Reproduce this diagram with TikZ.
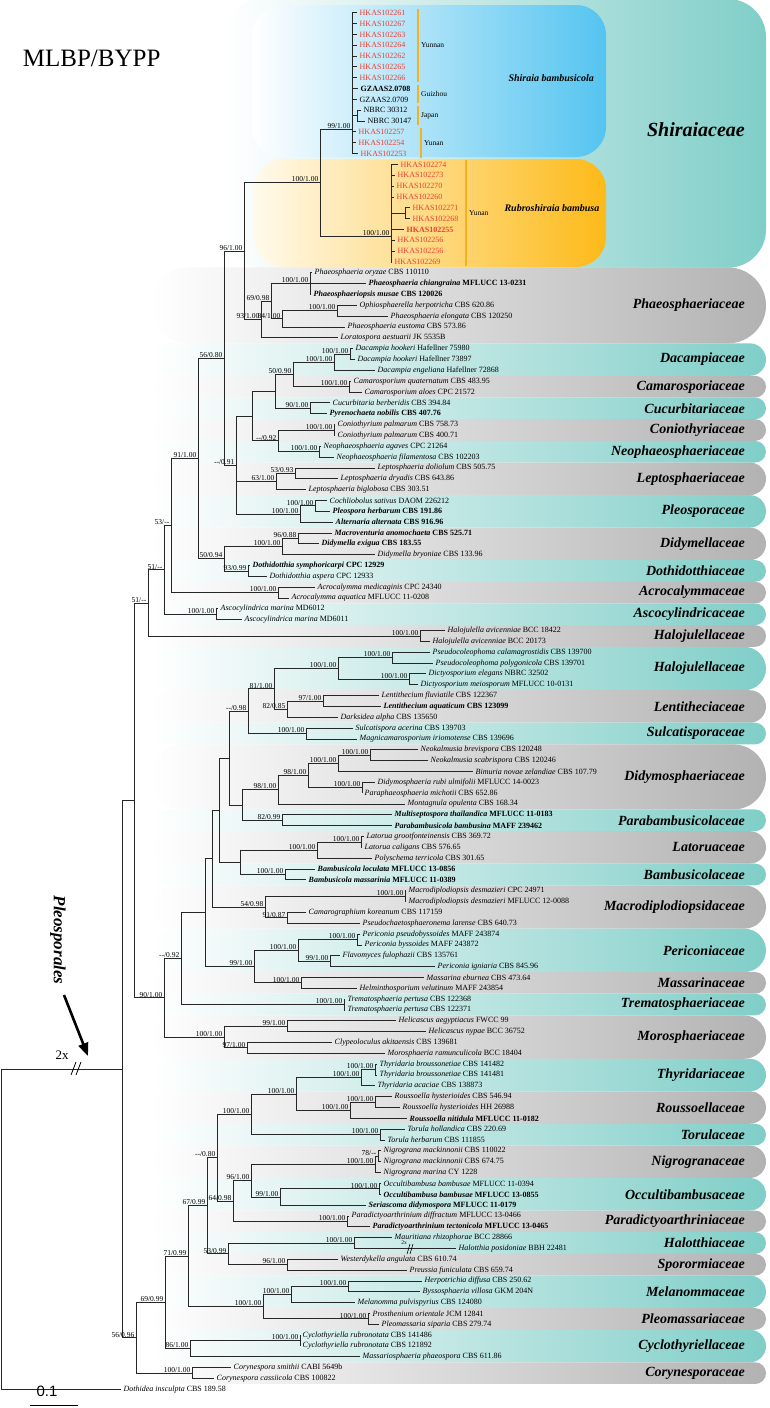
\documentclass[tikz,border=0pt]{standalone}
\usepackage{fontspec}
\setmainfont{Liberation Serif}
\newfontfamily\barfont{Liberation Sans}
\usetikzlibrary{positioning,arrows.meta,calc}
\usepackage{xcolor}
\definecolor{tealc}{RGB}{128,206,200}
\definecolor{greyc}{RGB}{178,178,178}
\definecolor{skyc}{RGB}{84,196,240}
\definecolor{ambc}{RGB}{253,186,24}
\definecolor{creamc}{RGB}{255,250,236}
\definecolor{hkred}{RGB}{236,62,52}
\definecolor{barc}{RGB}{245,178,30}

\newcommand\tx[2]{\textit{#1} #2}
\newcommand\tb[2]{\textbf{\textit{#1} #2}}
% leaf: row, tip x, style, text
\newcommand\lf[4]{%
  \pgfmathsetmacro\yy{12.7+10.84*#1}%
  \coordinate (t#1) at (#2,\yy);%
  \node[leaf,#3] (n#1) at (t#1) {#4};}
% inner node: name, x, first child, last child
\newcommand\nd[4]{%
  \coordinate (m#1) at ($(#3)!0.5!(#4)$);%
  \coordinate (x#1) at (#2,0);%
  \coordinate (#1) at (m#1 -| x#1);}
\newcommand\br[2]{\foreach \ch in {#2}{\draw[br] (#1) |- (\ch);}}
\newcommand\sv[2]{\node[sup] (s#1) at (#1) {#2};}
% family band: rows a b, colour, label
\newcommand\band[4]{%
  \pgfmathsetmacro\ya{12.7+10.84*#1-5.42}%
  \pgfmathsetmacro\yb{12.7+10.84*#2+5.42}%
  \pgfmathsetmacro\yc{(\ya+\yb)/2}%
  \pgfmathsetmacro\rr{min(38,(\yb-\ya)/2)}%
  \shade[left color=white,right color=#3,rounded corners=\rr pt] (150,\ya) rectangle (766,\yb);%
  \node[fam] (f#1) at (745,\yc) {#4};}
\newcommand\locbar[5]{% x, row a, row b, label, label x
  \pgfmathsetmacro\ya{12.7+10.84*#2-4}%
  \pgfmathsetmacro\yb{12.7+10.84*#3+4}%
  \pgfmathsetmacro\yc{(\ya+\yb)/2}%
  \draw[barc,line width=2.2pt] (#1,\ya) -- (#1,\yb);%
  \node[loc] (g#2) at (#5,\yc) {#4};}

\tikzset{
  br/.style={line width=0.9pt,black!85},
  leaf/.style={anchor=west,inner xsep=2.5pt,inner ysep=0pt,font=\fontsize{8}{9}\selectfont},
  hk/.style={text=hkred},
  sup/.style={anchor=south east,inner sep=0.5pt,xshift=-1pt,font=\fontsize{7.5}{8}\selectfont},
  fam/.style={anchor=east,inner sep=0pt,font=\fontsize{14}{16}\selectfont\bfseries\itshape},
  loc/.style={anchor=west,inner sep=1pt,font=\fontsize{7.5}{8}\selectfont},
}

\begin{document}
\begin{tikzpicture}[x=1pt,y=-1pt]
\useasboundingbox (0,0) rectangle (770,1408);

% background bands
\shade[left color=white,right color=tealc,rounded corners=38pt] (224,-1) rectangle (766,267.7);
\shade[left color=white,right color=skyc,rounded corners=30pt] (252,5) rectangle (606,157);
\shade[left color=creamc,right color=ambc,rounded corners=30pt] (254,159) rectangle (606,267);
\node[fam,font=\fontsize{20}{22}\selectfont\bfseries\itshape] (fsh) at (745,130) {Shiraiaceae};
\node[anchor=west,font=\fontsize{10}{12}\selectfont\bfseries\itshape] (shb) at (505,78) {Shiraia bambusicola};
\node[anchor=west,font=\fontsize{10}{12}\selectfont\bfseries\itshape] (rbb) at (501,208) {Rubroshiraia bambusa};
\band{24}{30}{greyc}{Phaeosphaeriaceae}
\band{31}{33}{tealc}{Dacampiaceae}
\band{34}{35}{greyc}{Camarosporiaceae}
\band{36}{37}{tealc}{Cucurbitariaceae}
\band{38}{39}{greyc}{Coniothyriaceae}
\band{40}{41}{tealc}{Neophaeosphaeriaceae}
\band{42}{44}{greyc}{Leptosphaeriaceae}
\band{45}{47}{tealc}{Pleosporaceae}
\band{48}{50}{greyc}{Didymellaceae}
\band{51}{52}{tealc}{Dothidotthiaceae}
\band{53}{54}{greyc}{Acrocalymmaceae}
\band{55}{56}{tealc}{Ascocylindricaceae}
\band{57}{58}{greyc}{Halojulellaceae}
\band{59}{62}{tealc}{Halojulellaceae}
\band{63}{65}{greyc}{Lentitheciaceae}
\band{66}{67}{tealc}{Sulcatisporaceae}
\band{68}{73}{greyc}{Didymosphaeriaceae}
\band{74}{75}{tealc}{Parabambusicolaceae}
\band{76}{78}{greyc}{Latoruaceae}
\band{79}{80}{tealc}{Bambusicolaceae}
\band{81}{84}{greyc}{Macrodiplodiopsidaceae}
\band{85}{88}{tealc}{Periconiaceae}
\band{89}{90}{greyc}{Massarinaceae}
\band{91}{92}{tealc}{Trematosphaeriaceae}
\band{93}{96}{greyc}{Morosphaeriaceae}
\band{97}{99}{tealc}{Thyridariaceae}
\band{100}{102}{greyc}{Roussoellaceae}
\band{103}{104}{tealc}{Torulaceae}
\band{105}{107}{greyc}{Nigrogranaceae}
\band{108}{110}{tealc}{Occultibambusaceae}
\band{111}{112}{greyc}{Paradictyoarthriniaceae}
\band{113}{114}{tealc}{Halotthiaceae}
\band{115}{116}{greyc}{Sporormiaceae}
\band{117}{119}{tealc}{Melanommaceae}
\band{120}{121}{greyc}{Pleomassariaceae}
\band{122}{124}{tealc}{Cyclothyriellaceae}
\band{125}{126}{greyc}{Corynesporaceae}

% location bars
\locbar{417.6}{0}{6}{Yunnan}{420}
\locbar{417.6}{7}{8}{Guizhou}{420}
\locbar{417.6}{9}{10}{Japan}{420}
\locbar{421}{11}{13}{Yunan}{423}
\locbar{466}{14}{23}{Yunan}{468}

% leaves
\lf{0}{357}{hk}{HKAS102261}
\lf{1}{357}{hk}{HKAS102267}
\lf{2}{357}{hk}{HKAS102263}
\lf{3}{357}{hk}{HKAS102264}
\lf{4}{357}{hk}{HKAS102262}
\lf{5}{357}{hk}{HKAS102265}
\lf{6}{357}{hk}{HKAS102266}
\lf{7}{358}{font=\fontsize{8}{9}\selectfont\bfseries}{GZAAS2.0708}
\lf{8}{357}{}{GZAAS2.0709}
\lf{9}{361}{}{NBRC 30312}
\lf{10}{365}{}{NBRC 30147}
\lf{11}{356}{hk}{HKAS102257}
\lf{12}{356}{hk}{HKAS102254}
\lf{13}{358}{hk}{HKAS102253}
\lf{14}{398}{hk}{HKAS102274}
\lf{15}{395}{hk}{HKAS102273}
\lf{16}{394}{hk}{HKAS102270}
\lf{17}{394}{hk}{HKAS102260}
\lf{18}{410}{hk}{HKAS102271}
\lf{19}{410}{hk}{HKAS102268}
\lf{20}{404}{hk,font=\fontsize{8}{9}\selectfont\bfseries}{HKAS102255}
\lf{21}{395}{hk}{HKAS102256}
\lf{22}{395}{hk}{HKAS102256}
\lf{23}{392}{hk}{HKAS102269}
\lf{24}{312}{}{\tx{Phaeosphaeria oryzae}{CBS 110110}}
\lf{25}{366}{}{\tb{Phaeosphaeria chiangraina}{MFLUCC 13-0231}}
\lf{26}{311}{}{\tb{Phaeosphaeriopsis musae}{CBS 120026}}
\lf{27}{357}{}{\tx{Ophiosphaerella herpotricha}{CBS 620.86}}
\lf{28}{388}{}{\tx{Phaeosphaeria elongata}{CBS 120250}}
\lf{29}{345}{}{\tx{Phaeosphaeria eustoma}{CBS 573.86}}
\lf{30}{338}{}{\tx{Loratospora aestuarii}{JK 5535B}}
\lf{31}{353}{}{\tx{Dacampia hookeri}{Hafellner 75980}}
\lf{32}{355}{}{\tx{Dacampia hookeri}{Hafellner 73897}}
\lf{33}{375}{}{\tx{Dacampia engeliana}{Hafellner 72868}}
\lf{34}{351}{}{\tx{Camarosporium quaternatum}{CBS 483.95}}
\lf{35}{362}{}{\tx{Camarosporium aloes}{CPC 21572}}
\lf{36}{330}{}{\tx{Cucurbitaria berberidis}{CBS 394.84}}
\lf{37}{327}{}{\tb{Pyrenochaeta nobilis}{CBS 407.76}}
\lf{38}{335}{}{\tx{Coniothyrium palmarum}{CBS 758.73}}
\lf{39}{335}{}{\tx{Coniothyrium palmarum}{CBS 400.71}}
\lf{40}{321}{}{\tx{Neophaeosphaeria agaves}{CPC 21264}}
\lf{41}{334}{}{\tx{Neophaeosphaeria filamentosa}{CBS 102203}}
\lf{42}{375}{}{\tx{Leptosphaeria doliolum}{CBS 505.75}}
\lf{43}{338}{}{\tx{Leptosphaeria dryadis}{CBS 643.86}}
\lf{44}{306}{}{\tx{Leptosphaeria biglobosa}{CBS 303.51}}
\lf{45}{327}{}{\tx{Cochliobolus sativus}{DAOM 226212}}
\lf{46}{330}{}{\tb{Pleospora herbarum}{CBS 191.86}}
\lf{47}{333}{}{\tb{Alternaria alternata}{CBS 916.96}}
\lf{48}{332}{}{\tb{Macroventuria anomochaeta}{CBS 525.71}}
\lf{49}{319}{}{\tb{Didymella exigua}{CBS 183.55}}
\lf{50}{375}{}{\tx{Didymella bryoniae}{CBS 133.96}}
\lf{51}{250}{}{\tb{Dothidotthia symphoricarpi}{CPC 12929}}
\lf{52}{267}{}{\tx{Dothidotthia aspera}{CPC 12933}}
\lf{53}{315}{}{\tx{Acrocalymma medicaginis}{CPC 24340}}
\lf{54}{289}{}{\tx{Acrocalymma aquatica}{MFLUCC 11-0208}}
\lf{55}{218}{}{\tx{Ascocylindrica marina}{MD6012}}
\lf{56}{242}{}{\tx{Ascocylindrica marina}{MD6011}}
\lf{57}{445}{}{\tx{Halojulella avicenniae}{BCC 18422}}
\lf{58}{430}{}{\tx{Halojulella avicenniae}{BCC 20173}}
\lf{59}{430}{}{\tx{Pseudocoleophoma calamagrostidis}{CBS 139700}}
\lf{60}{433}{}{\tx{Pseudocoleophoma polygonicola}{CBS 139701}}
\lf{61}{426}{}{\tx{Dictyosporium elegans}{NBRC 32502}}
\lf{62}{418}{}{\tx{Dictyosporium meiosporum}{MFLUCC 10-0131}}
\lf{63}{379}{}{\tx{Lentithecium fluviatile}{CBS 122367}}
\lf{64}{381}{}{\tb{Lentithecium aquaticum}{CBS 123099}}
\lf{65}{338}{}{\tx{Darksidea alpha}{CBS 135650}}
\lf{66}{353}{}{\tx{Sulcatispora acerina}{CBS 139703}}
\lf{67}{357}{}{\tx{Magnicamarosporium iriomotense}{CBS 139696}}
\lf{68}{418}{}{\tx{Neokalmusia brevispora}{CBS 120248}}
\lf{69}{428}{}{\tx{Neokalmusia scabrispora}{CBS 120246}}
\lf{70}{473}{}{\tx{Bimuria novae zelandiae}{CBS 107.79}}
\lf{71}{375}{}{\tx{Didymosphaeria rubi ulmifolii}{MFLUCC 14-0023}}
\lf{72}{362}{}{\tx{Paraphaeosphaeria michotii}{CBS 652.86}}
\lf{73}{405}{}{\tx{Montagnula opulenta}{CBS 168.34}}
\lf{74}{392}{}{\tb{Multiseptospora thailandica}{MFLUCC 11-0183}}
\lf{75}{392}{}{\tb{Parabambusicola bambusina}{MAFF 239462}}
\lf{76}{364}{}{\tx{Latorua grootfonteinensis}{CBS 369.72}}
\lf{77}{362}{}{\tx{Latorua caligans}{CBS 576.65}}
\lf{78}{372}{}{\tx{Polyschema terricola}{CBS 301.65}}
\lf{79}{315}{}{\tb{Bambusicola loculata}{MFLUCC 13-0856}}
\lf{80}{306}{}{\tb{Bambusicola massarinia}{MFLUCC 11-0389}}
\lf{81}{406}{}{\tx{Macrodiplodiopsis desmazieri}{CPC 24971}}
\lf{82}{406}{}{\tx{Macrodiplodiopsis desmazieri}{MFLUCC 12-0088}}
\lf{83}{306}{}{\tx{Camarographium koreanum}{CBS 117159}}
\lf{84}{360}{}{\tx{Pseudochaetosphaeronema larense}{CBS 640.73}}
\lf{85}{360}{}{\tx{Periconia pseudobyssoides}{MAFF 243874}}
\lf{86}{362}{}{\tx{Periconia byssoides}{MAFF 243872}}
\lf{87}{340}{}{\tx{Flavomyces fulophazii}{CBS 135761}}
\lf{88}{435}{}{\tx{Periconia igniaria}{CBS 845.96}}
\lf{89}{424}{}{\tx{Massarina eburnea}{CBS 473.64}}
\lf{90}{357}{}{\tx{Helminthosporium velutinum}{MAFF 243854}}
\lf{91}{345}{}{\tx{Trematosphaeria pertusa}{CBS 122368}}
\lf{92}{345}{}{\tx{Trematosphaeria pertusa}{CBS 122371}}
\lf{93}{396}{}{\tx{Helicascus aegyptiacus}{FWCC 99}}
\lf{94}{426}{}{\tx{Helicascus nypae}{BCC 36752}}
\lf{95}{332}{}{\tx{Clypeoloculus akitaensis}{CBS 139681}}
\lf{96}{385}{}{\tx{Morosphaeria ramunculicola}{BCC 18404}}
\lf{97}{377}{}{\tx{Thyridaria broussonetiae}{CBS 141482}}
\lf{98}{377}{}{\tx{Thyridaria broussonetiae}{CBS 141481}}
\lf{99}{375}{}{\tx{Thyridaria acaciae}{CBS 138873}}
\lf{100}{392}{}{\tx{Roussoella hysterioides}{CBS 546.94}}
\lf{101}{400}{}{\tx{Roussoella hysterioides}{HH 26988}}
\lf{102}{407}{}{\tb{Roussoella nitidula}{MFLUCC 11-0182}}
\lf{103}{405}{}{\tx{Torula hollandica}{CBS 220.69}}
\lf{104}{385}{}{\tx{Torula herbarum}{CBS 111855}}
\lf{105}{381}{}{\tx{Nigrograna mackinnonii}{CBS 110022}}
\lf{106}{381}{}{\tx{Nigrograna mackinnonii}{CBS 674.75}}
\lf{107}{381}{}{\tx{Nigrograna marina}{CY 1228}}
\lf{108}{381}{}{\tx{Occultibambusa bambusae}{MFLUCC 11-0394}}
\lf{109}{381}{}{\tb{Occultibambusa bambusae}{MFLUCC 13-0855}}
\lf{110}{366}{}{\tb{Seriascoma didymospora}{MFLUCC 11-0179}}
\lf{111}{349}{}{\tx{Paradictyoarthrinium diffractum}{MFLUCC 13-0466}}
\lf{112}{370}{}{\tb{Paradictyoarthrinium tectonicola}{MFLUCC 13-0465}}
\lf{113}{392}{}{\tx{Mauritiana rhizophorae}{BCC 28866}}
\lf{114}{456}{}{\tx{Halotthia posidoniae}{BBH 22481}}
\lf{115}{338}{}{\tx{Westerdykella angulata}{CBS 610.74}}
\lf{116}{407}{}{\tx{Preussia funiculata}{CBS 659.74}}
\lf{117}{422}{}{\tx{Herpotrichia diffusa}{CBS 250.62}}
\lf{118}{420}{}{\tx{Byssosphaeria villosa}{GKM 204N}}
\lf{119}{355}{}{\tx{Melanomma pulvispyrius}{CBS 124080}}
\lf{120}{370}{}{\tx{Prosthenium orientale}{JCM 12841}}
\lf{121}{379}{}{\tx{Pleomassaria siparia}{CBS 279.74}}
\lf{122}{300}{}{\tx{Cyclothyriella rubronotata}{CBS 141486}}
\lf{123}{300}{}{\tx{Cyclothyriella rubronotata}{CBS 121892}}
\lf{124}{360}{}{\tx{Massariosphaeria phaeospora}{CBS 611.86}}
\lf{125}{231}{}{\tx{Corynespora smithii}{CABI 5649b}}
\lf{126}{214}{}{\tx{Corynespora cassiicola}{CBS 100822}}
\lf{127}{121}{}{\tx{Dothidea insculpta}{CBS 189.58}}

% Shiraiaceae
\coordinate (S) at (352,129);
\coordinate (Rb) at (391,236);
\nd{NB}{357}{t9}{t10} \br{NB}{t9,t10}
\br{S}{t0,t1,t2,t3,t4,t5,t6,t7,t8,NB,t11,t12,t13}
\nd{RR}{405}{t18}{t19} \br{RR}{t18,t19}
\br{Rb}{t14,t15,t16,t17,RR,t20,t21,t22,t23}
\nd{Sh}{320}{S}{Rb} \br{Sh}{S,Rb}
% Phaeosphaeriaceae
\nd{B}{310}{t24}{t26} \br{B}{t24,t25,t26}
\nd{D}{337}{t27}{t28} \br{D}{t27,t28}
\nd{C}{282}{D}{t29} \br{C}{D,t29}
\nd{A}{271}{B}{C} \br{A}{B,C}
\nd{P}{261}{A}{t30} \br{P}{A,t30}
\nd{SP}{244}{Sh}{P} \br{SP}{Sh,P}
% Dacampia to Pleosporaceae
\nd{Dh}{350}{t31}{t32} \br{Dh}{t31,t32}
\nd{Da}{334}{Dh}{t33} \br{Da}{Dh,t33}
\nd{Ca}{349}{t34}{t35} \br{Ca}{t34,t35}
\nd{DC}{293}{Da}{Ca} \br{DC}{Da,Ca}
\nd{Cu}{310}{t36}{t37} \br{Cu}{t36,t37}
\nd{U}{275}{DC}{Cu} \br{U}{DC,Cu}
\nd{Co}{334}{t38}{t39} \br{Co}{t38,t39}
\nd{Ne}{319}{t40}{t41} \br{Ne}{t40,t41}
\nd{CN}{278}{Co}{Ne} \br{CN}{Co,Ne}
\nd{T}{252}{U}{CN} \br{T}{U,CN}
\nd{LD}{295}{t42}{t43} \br{LD}{t42,t43}
\nd{Z}{276}{LD}{t44} \br{Z}{LD,t44}
\nd{CP}{315}{t45}{t46} \br{CP}{t45,t46}
\nd{Psp}{300}{CP}{t47} \br{Psp}{CP,t47}
\nd{Y}{236}{T}{Psp} \br{Y}{T,Z,Psp}
\nd{X56}{224}{SP}{Y} \br{X56}{SP,Y}
\nd{ME}{298}{t48}{t49} \br{ME}{t48,t49}
\nd{Dm}{282}{ME}{t50} \br{Dm}{ME,t50}
\nd{Dt}{248}{t51}{t52} \br{Dt}{t51,t52}
\nd{DD}{224}{Dm}{Dt} \br{DD}{Dm,Dt}
\nd{R}{198}{X56}{DD} \br{R}{X56,DD}
\nd{Ac}{278}{t53}{t54} \br{Ac}{t53,t54}
\nd{N53}{171}{R}{Ac} \br{N53}{R,Ac}
\nd{As}{216}{t55}{t56} \br{As}{t55,t56}
\nd{N51a}{164}{N53}{As} \br{N51a}{N53,As}
\nd{Hj}{420}{t57}{t58} \br{Hj}{t57,t58}
\nd{N51b}{148}{N51a}{Hj} \br{N51b}{N51a,Hj}
% middle clade
\nd{Pc}{392}{t59}{t60} \br{Pc}{t59,t60}
\nd{Di}{409}{t61}{t62} \br{Di}{t61,t62}
\nd{H2}{338}{Pc}{Di} \br{H2}{Pc,Di}
\nd{Lf}{323}{t63}{t64} \br{Lf}{t63,t64}
\nd{Le}{287}{Lf}{t65} \br{Le}{Lf,t65}
\nd{H81}{274}{H2}{Le} \br{H81}{H2,Le}
\nd{Su}{306}{t66}{t67} \br{Su}{t66,t67}
\nd{H98}{248}{H81}{Su} \br{H98}{H81,Su}
\nd{Nk}{370}{t68}{t69} \br{Nk}{t68,t69}
\nd{D100}{338}{Nk}{t70} \br{D100}{Nk,t70}
\nd{Dr}{362}{t71}{t72} \br{Dr}{t71,t72}
\nd{D98}{308}{D100}{Dr} \br{D98}{D100,Dr}
\nd{Dy}{278}{D98}{t73} \br{Dy}{D98,t73}
\nd{Pb}{282}{t74}{t75} \br{Pb}{t74,t75}
\nd{DPa}{242}{Dy}{Pb} \br{DPa}{Dy,Pb}
\nd{N229}{229}{H98}{DPa} \br{N229}{H98,DPa}
\nd{La}{361}{t76}{t77} \br{La}{t76,t77}
\nd{LP}{317}{La}{t78} \br{LP}{La,t78}
\nd{Bm}{285}{t79}{t80} \br{Bm}{t79,t80}
\nd{N240}{240}{LP}{Bm} \br{N240}{LP,Bm}
\nd{Na}{219}{N229}{N240} \br{Na}{N229,N240}
\nd{Md}{405}{t81}{t82} \br{Md}{t81,t82}
\nd{CP2}{287}{t83}{t84} \br{CP2}{t83,t84}
\nd{Mc}{265}{Md}{CP2} \br{Mc}{Md,CP2}
\nd{Nb}{212}{Na}{Mc} \br{Nb}{Na,Mc}
\nd{Pp}{357}{t85}{t86} \br{Pp}{t85,t86}
\nd{Fi}{330}{t87}{t88} \br{Fi}{t87,t88}
\nd{Pe}{298}{Pp}{Fi} \br{Pe}{Pp,Fi}
\nd{Ms}{301}{t89}{t90} \br{Ms}{t89,t90}
\nd{PM}{254}{Pe}{Ms} \br{PM}{Pe,Ms}
\nd{J2}{205}{Nb}{PM} \br{J2}{Nb,PM}
\nd{Tr}{344}{t91}{t92} \br{Tr}{t91,t92}
\nd{J}{181}{J2}{Tr} \br{J}{J2,Tr}
\nd{He}{287}{t93}{t94} \br{He}{t93,t94}
\nd{CM}{247}{t95}{t96} \br{CM}{t95,t96}
\nd{Mo}{224}{He}{CM} \br{Mo}{He,CM}
\nd{LG}{164}{J}{Mo} \br{LG}{J,Mo}
\nd{K}{134}{N51b}{LG} \br{K}{N51b,LG}
% lower clade
\nd{Tb}{375}{t97}{t98} \br{Tb}{t97,t98}
\nd{Th}{361}{Tb}{t99} \br{Th}{Tb,t99}
\nd{Rh}{375}{t100}{t101} \br{Rh}{t100,t101}
\nd{Ro}{350}{Rh}{t102} \br{Ro}{Rh,t102}
\nd{TR}{296}{Th}{Ro} \br{TR}{Th,Ro}
\nd{To}{380}{t103}{t104} \br{To}{t103,t104}
\nd{N251}{251}{TR}{To} \br{N251}{TR,To}
\nd{Nm}{378}{t105}{t106} \br{Nm}{t105,t106}
\nd{Ng}{375}{Nm}{t107} \br{Ng}{Nm,t107}
\nd{Ob}{379}{t108}{t109} \br{Ob}{t108,t109}
\nd{Oc}{280}{Ob}{t110} \br{Oc}{Ob,t110}
\nd{NO}{251}{Ng}{Oc} \br{NO}{Ng,Oc}
\nd{Pd}{347}{t111}{t112} \br{Pd}{t111,t112}
\nd{N233}{233}{NO}{Pd} \br{N233}{NO,Pd}
\nd{N217}{217}{N251}{N233} \br{N217}{N251,N233}
\nd{Ht}{354}{t113}{t114} \br{Ht}{t113,t114}
\nd{Sp}{287}{t115}{t116} \br{Sp}{t115,t116}
\nd{N228}{228}{Ht}{Sp} \br{N228}{Ht,Sp}
\nd{M67}{207}{N217}{N228} \br{M67}{N217,N228}
\nd{HB}{348}{t117}{t118} \br{HB}{t117,t118}
\nd{Me}{291}{HB}{t119} \br{Me}{HB,t119}
\nd{Pm}{368}{t120}{t121} \br{Pm}{t120,t121}
\nd{MP}{263}{Me}{Pm} \br{MP}{Me,Pm}
\nd{M71}{188}{M67}{MP} \br{M71}{M67,MP}
\nd{Cr}{300}{t122}{t123} \br{Cr}{t122,t123}
\nd{Cyf}{190}{Cr}{t124} \br{Cyf}{Cr,t124}
\nd{M69}{165}{M71}{Cyf} \br{M69}{M71,Cyf}
\nd{Cs}{192}{t125}{t126} \br{Cs}{t125,t126}
\nd{M56}{136}{M69}{Cs} \br{M56}{M69,Cs}
\nd{PL}{122}{K}{M56} \br{PL}{K,M56}
\nd{rt}{1}{PL}{t127} \br{rt}{PL,t127}

% support values
\sv{S}{99/1.00} \sv{Rb}{100/1.00} \sv{Sh}{100/1.00}
\sv{B}{100/1.00} \sv{D}{100/1.00} \sv{C}{84/1.00} \sv{A}{69/0.98}
\sv{P}{93/1.00} \sv{SP}{96/1.00}
\sv{Dh}{100/1.00} \sv{Da}{100/1.00} \sv{Ca}{100/1.00} \sv{DC}{50/0.90}
\sv{Cu}{90/1.00} \sv{Co}{100/1.00} \sv{Ne}{100/1.00} \sv{CN}{-{}-/0.92}
\sv{LD}{53/0.93} \sv{Z}{63/1.00} \sv{CP}{100/1.00} \sv{Psp}{100/1.00}
\sv{Y}{-{}-/0.91} \sv{X56}{56/0.80}
\sv{ME}{96/0.88} \sv{Dm}{100/1.00} \sv{Dt}{93/0.99} \sv{DD}{50/0.94}
\sv{R}{91/1.00} \sv{Ac}{100/1.00} \sv{N53}{53/-{}-} \sv{As}{100/1.00}
\sv{N51a}{51/-{}-} \sv{Hj}{100/1.00} \sv{N51b}{51/-{}-}
\sv{Pc}{100/1.00} \sv{Di}{100/1.00} \sv{H2}{100/1.00} \sv{Lf}{97/1.00}
\sv{Le}{82/0.85} \sv{H81}{81/1.00} \sv{Su}{100/1.00} \sv{H98}{-{}-/0.98}
\sv{Nk}{100/1.00} \sv{D100}{100/1.00} \sv{Dr}{100/1.00} \sv{D98}{98/1.00}
\sv{Dy}{98/1.00} \sv{Pb}{82/0.99} \sv{La}{100/1.00} \sv{LP}{100/1.00}
\sv{Bm}{100/1.00} \sv{Md}{100/1.00} \sv{CP2}{91/0.87} \sv{Mc}{54/0.98}
\sv{Pp}{100/1.00} \sv{Fi}{99/1.00} \sv{Pe}{100/1.00} \sv{Ms}{100/1.00}
\sv{PM}{99/1.00} \sv{Tr}{100/1.00} \sv{J}{-{}-/0.92} \sv{He}{99/1.00}
\sv{CM}{97/1.00} \sv{Mo}{100/1.00} \sv{LG}{90/1.00}
\sv{Tb}{100/1.00} \sv{Th}{100/1.00} \sv{Rh}{100/1.00} \sv{Ro}{100/1.00}
\sv{TR}{100/1.00} \sv{To}{100/1.00} \sv{N251}{100/1.00} \sv{Nm}{78/-{}-}
\sv{Ng}{100/1.00} \sv{Ob}{100/1.00} \sv{Oc}{99/1.00} \sv{NO}{96/1.00}
\sv{Pd}{100/1.00} \sv{N233}{64/0.98} \sv{N217}{-{}-/0.80} \sv{Ht}{100/1.00}
\sv{Sp}{96/1.00} \sv{N228}{53/0.99} \sv{M67}{67/0.99} \sv{HB}{100/1.00}
\sv{Me}{100/1.00} \sv{Pm}{100/1.00} \sv{MP}{100/1.00} \sv{M71}{71/0.99}
\sv{Cr}{100/1.00} \sv{Cyf}{86/1.00} \sv{M69}{69/0.99} \sv{Cs}{100/1.00}
\sv{M56}{56/0.96}

% breaks on long branches
\draw[line width=0.8pt] (71,1075) -- (76,1062) (76,1075) -- (81,1062);
\node[font=\fontsize{13}{14}\selectfont] (twox) at (62,1055) {2x};
\draw[line width=0.6pt] (407,1254) -- (410,1244) (410,1254) -- (413,1244);
\node[font=\fontsize{5.5}{6}\selectfont,inner sep=0pt] (twoxb) at (404,1243) {2x};

% order label and arrow
\node[rotate=-90,font=\fontsize{17}{18}\selectfont\bfseries\itshape] (ordlab) at (58,940) {Pleosporales};
\coordinate (atail) at (64,995);
\coordinate (atip) at (88,1056);
\draw[line width=2.6pt,-{Triangle[length=13pt,width=10pt]}] (atail) -- (atip);

% title and scale bar
\node[anchor=east,font=\fontsize{25}{26}\selectfont] (title) at (164,58) {MLBP/BYPP};
\coordinate (sb1) at (30,1405);
\coordinate (sb2) at (78,1405);
\draw[line width=1pt] (sb1) -- (sb2);
\node[font=\barfont\fontsize{15}{16}\selectfont] (sbl) at (47,1391) {0.1};
\end{tikzpicture}
\end{document}
